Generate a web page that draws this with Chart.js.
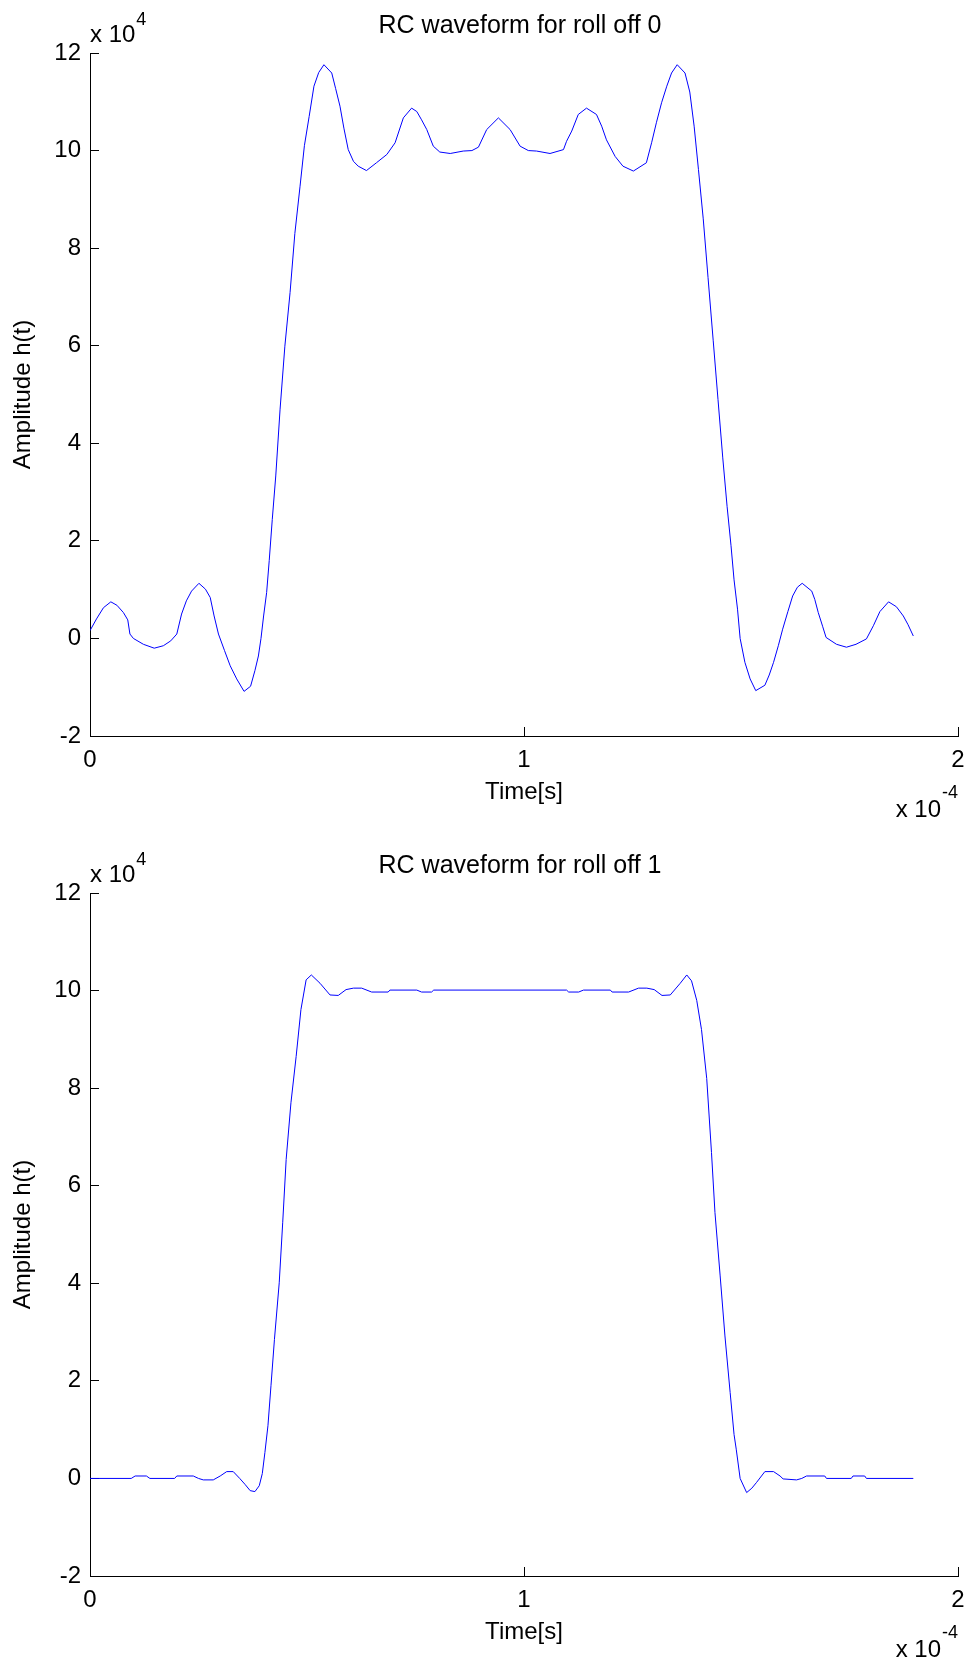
<!DOCTYPE html>
<html>
<head>
<meta charset="utf-8">
<title>RC waveform</title>
<script src="https://cdn.jsdelivr.net/npm/chart.js@4.4.0/dist/chart.umd.min.js"></script>
<style>
  html, body { margin: 0; padding: 0; background: #fff; }
  .plot { position: absolute; left: 0; width: 971px; height: 823px; }
  #plot0 { top: 0; }
  #plot1 { top: 840px; }
</style>
</head>
<body>
<div class="plot" id="plot0"><canvas id="chart0" width="971" height="823"></canvas></div>
<div class="plot" id="plot1"><canvas id="chart1" width="971" height="823"></canvas></div>
<script>
/* ===== DATA (time in x10^-4 s, amplitude in x10^4) ===== */
const timeRoll0 = [
  0.000, 0.015, 0.031, 0.048, 0.062, 0.077, 0.087, 0.092, 0.100, 0.123,
  0.148, 0.169, 0.186, 0.200, 0.211, 0.222, 0.234, 0.251, 0.266, 0.277,
  0.286, 0.296, 0.310, 0.323, 0.338, 0.355, 0.370, 0.380, 0.388, 0.394,
  0.400, 0.407, 0.413, 0.420, 0.428, 0.438, 0.449, 0.461, 0.472, 0.484,
  0.494, 0.505, 0.516, 0.527, 0.539, 0.557, 0.566, 0.576, 0.585, 0.595,
  0.607, 0.618, 0.637, 0.660, 0.684, 0.703, 0.722, 0.741, 0.753, 0.764,
  0.776, 0.791, 0.806, 0.830, 0.860, 0.880, 0.895, 0.914, 0.941, 0.968,
  0.991, 1.010, 1.029, 1.060, 1.091, 1.098, 1.110, 1.125, 1.144, 1.167,
  1.179, 1.190, 1.210, 1.228, 1.252, 1.282, 1.294, 1.305, 1.317, 1.329,
  1.340, 1.353, 1.371, 1.382, 1.392, 1.402, 1.413, 1.424, 1.436, 1.447,
  1.458, 1.468, 1.477, 1.484, 1.492, 1.498, 1.509, 1.521, 1.534, 1.555,
  1.565, 1.575, 1.586, 1.596, 1.608, 1.619, 1.630, 1.641, 1.663, 1.670,
  1.678, 1.688, 1.696, 1.720, 1.743, 1.765, 1.789, 1.805, 1.820, 1.840,
  1.858, 1.874, 1.885, 1.897
];
const ampRoll0 = [
  0.16, 0.40, 0.63, 0.75, 0.68, 0.53, 0.38, 0.09, 0.00, -0.12,
  -0.20, -0.15, -0.05, 0.09, 0.50, 0.77, 0.97, 1.13, 1.01, 0.84,
  0.46, 0.09, -0.25, -0.56, -0.83, -1.085, -0.98, -0.66, -0.36, 0.00,
  0.46, 0.94, 1.60, 2.44, 3.33, 4.70, 5.99, 7.09, 8.30, 9.27,
  10.10, 10.70, 11.32, 11.60, 11.76, 11.59, 11.27, 10.91, 10.46, 10.02,
  9.78, 9.68, 9.59, 9.75, 9.92, 10.16, 10.67, 10.87, 10.80, 10.63,
  10.43, 10.09, 9.97, 9.94, 9.99, 10.00, 10.07, 10.43, 10.67, 10.43,
  10.09, 10.00, 9.99, 9.94, 10.02, 10.19, 10.40, 10.74, 10.87, 10.74,
  10.50, 10.22, 9.88, 9.68, 9.58, 9.75, 10.16, 10.57, 10.98, 11.32,
  11.59, 11.76, 11.59, 11.20, 10.50, 9.61, 8.60, 7.40, 6.10, 4.90,
  3.70, 2.70, 1.90, 1.20, 0.60, 0.00, -0.49, -0.83, -1.07, -0.96,
  -0.75, -0.49, -0.15, 0.19, 0.55, 0.87, 1.05, 1.13, 0.97, 0.80,
  0.53, 0.25, 0.02, -0.12, -0.18, -0.12, -0.01, 0.26, 0.55, 0.75,
  0.65, 0.46, 0.28, 0.05
];

const timeRoll1 = [
  0.000, 0.095, 0.104, 0.130, 0.138, 0.195, 0.200, 0.238, 0.250, 0.261,
  0.284, 0.300, 0.315, 0.330, 0.345, 0.357, 0.369, 0.380, 0.390, 0.397,
  0.403, 0.410, 0.417, 0.425, 0.436, 0.444, 0.452, 0.463, 0.475, 0.486,
  0.498, 0.510, 0.530, 0.553, 0.572, 0.590, 0.607, 0.626, 0.649, 0.687,
  0.691, 0.753, 0.764, 0.787, 0.792, 1.098, 1.103, 1.126, 1.137, 1.199,
  1.203, 1.241, 1.264, 1.283, 1.300, 1.318, 1.337, 1.360, 1.375, 1.386,
  1.398, 1.409, 1.421, 1.432, 1.440, 1.452, 1.463, 1.475, 1.484, 1.489,
  1.498, 1.513, 1.525, 1.536, 1.555, 1.575, 1.590, 1.597, 1.628, 1.640,
  1.651, 1.693, 1.697, 1.754, 1.758, 1.785, 1.789, 1.897
];
const ampRoll1 = [
  0.00, 0.00, 0.05, 0.05, 0.00, 0.00, 0.05, 0.05, 0.00, -0.03,
  -0.03, 0.05, 0.14, 0.14, 0.00, -0.12, -0.25, -0.27, -0.15, 0.10,
  0.53, 1.08, 1.90, 2.85, 4.01, 5.24, 6.54, 7.70, 8.65, 9.61,
  10.22, 10.32, 10.15, 9.91, 9.90, 10.02, 10.05, 10.05, 9.97, 9.97,
  10.01, 10.01, 9.97, 9.97, 10.01, 10.01, 9.97, 9.97, 10.01, 10.01,
  9.97, 9.97, 10.05, 10.05, 10.02, 9.90, 9.91, 10.15, 10.32, 10.20,
  9.80, 9.20, 8.20, 6.68, 5.45, 4.15, 2.92, 1.76, 0.90, 0.60,
  0.00, -0.29, -0.20, -0.08, 0.14, 0.14, 0.05, -0.01, -0.03, 0.00,
  0.05, 0.05, 0.00, 0.00, 0.05, 0.05, 0.00, 0.00
];

const xTicks = [0, 1, 2];
const yTicks = [-2, 0, 2, 4, 6, 8, 10, 12];

/* ===== STYLE ===== */
const FONT = '"Liberation Sans", Arial, sans-serif';
const PLOT_H = 823;

function toPoints(xs, ys) {
  return xs.map((x, i) => ({ x: x, y: ys[i] }));
}

// title + MATLAB style exponent labels
const matlabText = {
  id: "matlabText",
  afterDraw(chart, args, opts) {
    const ctx = chart.ctx;
    const a = chart.chartArea;
    ctx.save();
    ctx.fillStyle = "#000";
    ctx.textBaseline = "alphabetic";

    // title
    ctx.font = "25px " + FONT;
    ctx.textAlign = "center";
    ctx.fillText(opts.title, (a.left + a.right) / 2 - 4, a.top - 20);

    // y multiplier: x 10^4
    ctx.textAlign = "left";
    ctx.font = "24px " + FONT;
    ctx.fillText("x 10", a.left, a.top - 11);
    let w = ctx.measureText("x 10").width;
    ctx.font = "18px " + FONT;
    ctx.fillText("4", a.left + w + 1, a.top - 28);

    // x multiplier: x 10^-4
    ctx.font = "18px " + FONT;
    const sup = "-4";
    const supW = ctx.measureText(sup).width;
    ctx.fillText(sup, a.right - supW, a.bottom + 62);
    ctx.font = "24px " + FONT;
    ctx.textAlign = "right";
    ctx.fillText("x 10", a.right - supW - 1, a.bottom + 81);
    ctx.restore();
  }
};

function makeChart(id, title, xs, ys) {
  return new Chart(document.getElementById(id), {
    type: "line",
    data: {
      datasets: [{
        data: toPoints(xs, ys),
        borderColor: "#0000ff",
        borderWidth: 1,
        pointRadius: 0,
        tension: 0,
        fill: false
      }]
    },
    options: {
      responsive: false,
      animation: false,
      layout: { padding: { top: 53, right: 13, left: 0, bottom: 0 } },
      plugins: {
        legend: { display: false },
        tooltip: { enabled: false },
        title: { display: false },
        matlabText: { title: title }
      },
      scales: {
        x: {
          type: "linear",
          min: 0,
          max: 2,
          afterBuildTicks: s => { s.ticks = xTicks.map(v => ({ value: v })); },
          afterFit: s => {
            s.height = PLOT_H - 736;
            s.paddingLeft = 0;
            s.paddingRight = 0;
          },
          ticks: { color: "#000", font: { family: FONT, size: 24 }, padding: 19, maxRotation: 0 },
          grid: { drawOnChartArea: false, drawTicks: true, tickLength: -9, color: "#000", lineWidth: 1 },
          border: { color: "#000", width: 1 },
          title: {
            display: true, text: "Time[s]", color: "#000",
            font: { family: FONT, size: 24 }, padding: { top: 0, bottom: 16 }
          }
        },
        y: {
          type: "linear",
          min: -2,
          max: 12,
          afterBuildTicks: s => { s.ticks = yTicks.map(v => ({ value: v })); },
          afterFit: s => { s.width = 90; },
          ticks: { color: "#000", font: { family: FONT, size: 24 }, padding: 18 },
          grid: { drawOnChartArea: false, drawTicks: true, tickLength: -9, color: "#000", lineWidth: 1 },
          border: { color: "#000", width: 1 },
          title: {
            display: true, text: "Amplitude h(t)", color: "#000",
            font: { family: FONT, size: 24 }, padding: { top: 9, bottom: 0 }
          }
        }
      }
    },
    plugins: [matlabText]
  });
}

makeChart("chart0", "RC waveform for roll off 0", timeRoll0, ampRoll0);
makeChart("chart1", "RC waveform for roll off 1", timeRoll1, ampRoll1);
</script>
</body>
</html>
